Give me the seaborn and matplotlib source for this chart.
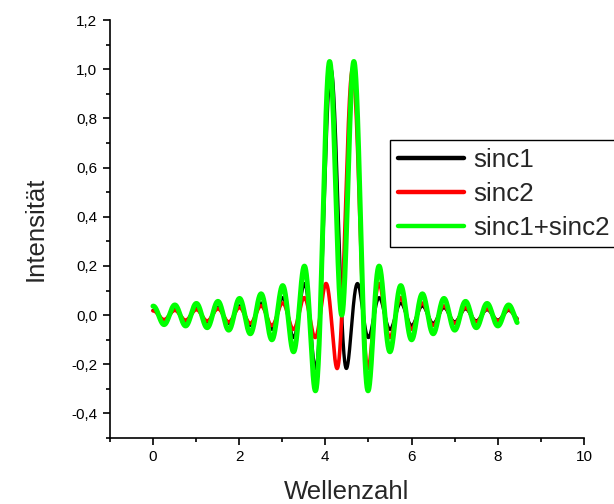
import numpy as np
import pandas as pd
import matplotlib
matplotlib.use("Agg")
import matplotlib.pyplot as plt
import seaborn as sns
from matplotlib.ticker import MultipleLocator

# Werte
x_start, x_end = 0.0, 8.45          # Bereich der Kurven (Wellenzahl)
center1, center2 = 4.13, 4.63       # Lage der Hauptmaxima
lobe_period = 0.5                   # Abstand der Nebenmaxima
x_ticks = [0, 2, 4, 6, 8, 10]
y_ticks = [-0.4, -0.2, 0.0, 0.2, 0.4, 0.6, 0.8, 1.0, 1.2]
y_tick_labels = ["-0,4", "-0,2", "0,0", "0,2", "0,4", "0,6", "0,8", "1,0", "1,2"]
series_names = ["sinc1", "sinc2", "sinc1+sinc2"]
series_colors = ["black", "red", "#00ff00"]

# Kurven
wellenzahl = np.linspace(x_start, x_end, 2000)
sinc1 = np.sinc(2 / lobe_period * (wellenzahl - center1))
sinc2 = np.sinc(2 / lobe_period * (wellenzahl - center2))
df = pd.DataFrame({"Wellenzahl": wellenzahl, "sinc1": sinc1, "sinc2": sinc2,
                   "sinc1+sinc2": sinc1 + sinc2})

sns.set_style("ticks")
plt.rcParams["font.family"] = ["Liberation Sans", "DejaVu Sans"]

fig = plt.figure(figsize=(6.14, 5.04), dpi=100)
ax = fig.add_axes([0.179, 0.131, 0.772, 0.829])

widths = [2.4, 2.6, 3.6]
for name, col, lw in zip(series_names, series_colors, widths):
    sns.lineplot(data=df, x="Wellenzahl", y=name, color=col, linewidth=lw,
                 label=name, ax=ax, sort=False, estimator=None)

ax.set_xlim(-1, 10)
ax.set_ylim(-0.5, 1.2)
ax.set_xticks(x_ticks)
ax.set_xticklabels([str(t) for t in x_ticks])
ax.set_yticks(y_ticks)
ax.set_yticklabels(y_tick_labels)
ax.xaxis.set_minor_locator(MultipleLocator(1))
ax.yaxis.set_minor_locator(MultipleLocator(0.1))
ax.tick_params(which="major", direction="out", length=5, width=1.2,
               labelsize=11, color="black", labelcolor="black", pad=4)
ax.tick_params(which="minor", direction="out", length=3, width=1.2, color="black")

sns.despine(ax=ax)
for side in ["left", "bottom"]:
    ax.spines[side].set_color("black")
    ax.spines[side].set_linewidth(1.2)

ax.set_xlabel("Wellenzahl", fontsize=18.5, labelpad=11)
ax.set_ylabel("Intensität", fontsize=18.5, labelpad=17)

leg = ax.legend(loc="upper left", bbox_to_anchor=(0.635, 0.722),
                bbox_transform=fig.transFigure, fontsize=18.7, frameon=True,
                fancybox=False, framealpha=1, edgecolor="black",
                handlelength=2.55, handletextpad=0.35, labelspacing=0.38,
                borderpad=0.3, borderaxespad=0)
leg.get_frame().set_linewidth(1.0)
for line in leg.get_lines():
    line.set_linewidth(3.2)

fig.savefig("out.png", dpi=100)
